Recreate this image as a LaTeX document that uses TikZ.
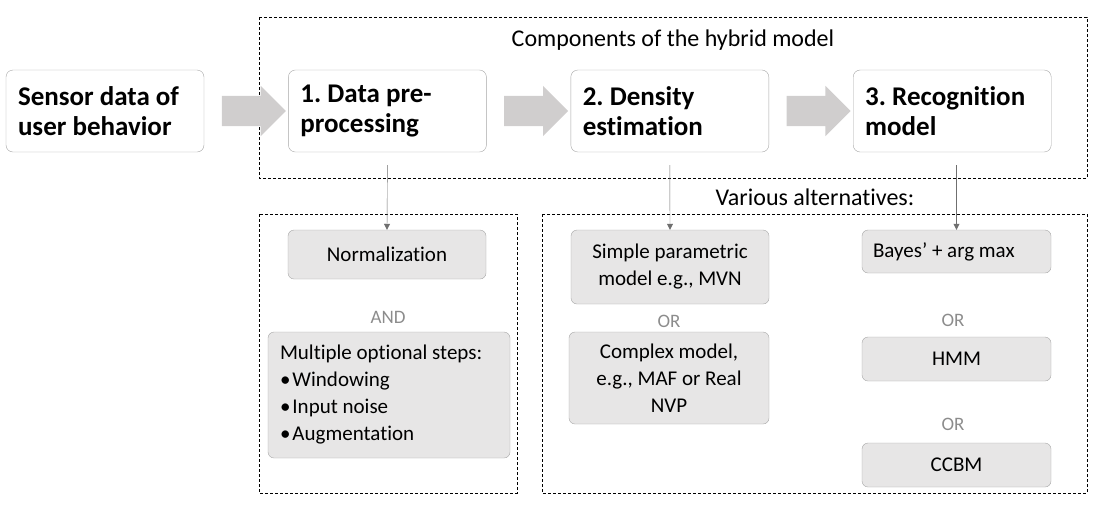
\documentclass[tikz,border=0pt]{standalone}
\usepackage{fontspec}
\setmainfont{Carlito}[Ligatures=NoCommon]
\usetikzlibrary{positioning,calc,shapes.arrows,arrows.meta}
\definecolor{boxline}{HTML}{A6A6A6}
\definecolor{boxfill}{HTML}{E7E6E6}
\definecolor{arrowfill}{HTML}{D0CECE}
\definecolor{linkgray}{HTML}{6F6F6F}
\definecolor{orgray}{HTML}{8C8C8C}
\tikzset{
    main-box/.style = {draw=boxline, fill=white, rounded corners=7pt, minimum width=198pt, minimum height=82pt, text width=174pt, align=flush left, inner xsep=12pt, font=\fontsize{27}{30}\selectfont\bfseries\frenchspacing},
    option-box/.style = {draw=boxline, fill=boxfill, rounded corners=6pt, align=center, inner sep=0pt, font=\fontsize{21}{27}\selectfont},
    group-box/.style = {draw=black, thin, dash pattern=on 3pt off 2pt},
    group-title/.style = {font=\fontsize{24}{28}\selectfont},
    choice-word/.style = {text=orgray, font=\fontsize{19}{22}\selectfont},
    big-arrow/.style = {single arrow, fill=arrowfill, draw=none, minimum height=64pt, inner xsep=0pt, inner ysep=15pt, single arrow head extend=10pt},
    link/.style = {draw=linkgray, thin, -{Triangle[width=6pt,length=6pt]}},
}

\begin{document}
\begin{tikzpicture}[x=1pt, y=-1pt]
\useasboundingbox (0,0) rectangle (1097,507);

% dashed groups
\draw[group-box] (259,17) rectangle (1087,178);
\draw[group-box] (259,214) rectangle (517,493);
\draw[group-box] (542,214) rectangle (1087,493);
\node[group-title] (hybrid) at (673,40) {Components of the hybrid model};
\node[group-title] (various) at (815,197) {Various alternatives:};

% main chain
\node[main-box] (sensor) at (105,111) {Sensor data of\\user behavior};
\node[main-box, right=84pt of sensor] (prep) {1. Data pre-\\processing};
\node[main-box, right=84pt of prep] (dens) {2. Density\\estimation};
\node[main-box, right=84pt of dens] (recog) {3. Recognition\\model};
\node[big-arrow] (a1) at ($(sensor.east)!0.5!(prep.west)$) {};
\node[big-arrow] (a2) at ($(prep.east)!0.5!(dens.west)$) {};
\node[big-arrow] (a3) at ($(dens.east)!0.5!(recog.west)$) {};

% pre-processing options
\node[option-box, minimum width=198pt, minimum height=49pt] (norm) at (387,254.5) {Normalization};
\node[choice-word] (and) at (388,317) {AND};
\node[option-box, align=flush left, text width=218pt, minimum height=126pt, inner xsep=12pt] (steps) at (389,395) {Multiple optional steps:\\
\textbullet\hspace{2pt}Windowing\\
\textbullet\hspace{2pt}Input noise\\
\textbullet\hspace{2pt}Augmentation};

% density options
\node[option-box, minimum width=198pt, minimum height=74pt] (simple) at (670,267) {Simple parametric\\model e.g., MVN};
\node[choice-word] (or1) at (669,321) {OR};
\node[option-box, minimum width=200pt, minimum height=92pt] (complex) at (669,378) {Complex model,\\e.g., MAF or Real\\NVP};

% recognition options
\node[option-box, align=flush left, text width=167pt, minimum height=43pt, inner xsep=11pt] (bayes) at (956.5,251.5) {Bayes’ + arg max};
\node[choice-word] (or2) at (953,320) {OR};
\node[option-box, minimum width=189pt, minimum height=44pt] (hmm) at (956.5,359) {HMM};
\node[choice-word] (or3) at (953,424) {OR};
\node[option-box, minimum width=189pt, minimum height=44pt] (ccbm) at (956.5,465) {CCBM};

% links down
\draw[link] ([yshift=-13pt]prep.south) -- (norm.north);
\draw[link] ([yshift=-13pt]dens.south) -- (simple.north);
\draw[link] ([yshift=-13pt]bayes.north |- recog.south) -- (bayes.north);
\end{tikzpicture}
\end{document}
